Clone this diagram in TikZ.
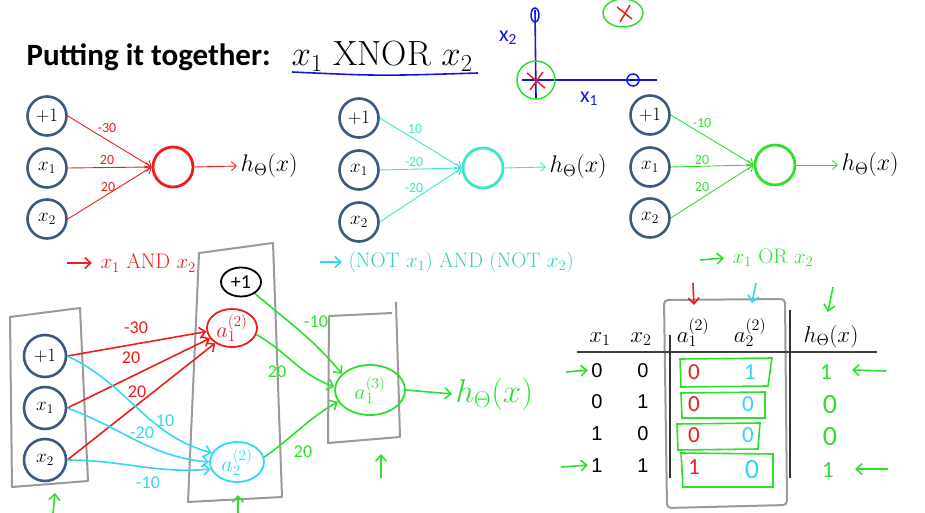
\documentclass[tikz,border=0pt]{standalone}
\usepackage{fix-cm}
\usepackage{fontspec}
\usetikzlibrary{arrows.meta,shapes.geometric}
\newfontfamily\calib{Carlito}
\newfontfamily\arialf{Liberation Sans}
\definecolor{nblue}{HTML}{3C5A80}
\definecolor{myred}{HTML}{EE1C1C}
\definecolor{tcyan}{HTML}{3EE6C8}
\definecolor{ccap}{HTML}{40C8C4}
\definecolor{hcyan}{HTML}{30D8F0}
\definecolor{mygreen}{HTML}{2EE02E}
\definecolor{pblue}{HTML}{1515E0}
\definecolor{boxgray}{HTML}{9A9A9A}
\begin{document}
\begin{tikzpicture}[x=1pt,y=-1pt,
 inp/.style={circle,draw=nblue,line width=2.6pt,minimum size=39pt,inner sep=0pt,font=\fontsize{19}{19}\selectfont},
 outn/.style={circle,line width=2.8pt,minimum size=40pt,inner sep=0pt},
 tarr/.style={line width=0.9pt,-{Straight Barb[length=5pt,width=9pt]}},
 wt/.style={font=\calib\fontsize{14}{14}\selectfont},
 hlab/.style={anchor=west,font=\fontsize{24}{24}\selectfont},
 capn/.style={anchor=west,font=\fontsize{21}{21}\selectfont},
 harr/.style={line width=1.6pt,-{Straight Barb[length=6pt,width=11pt]}},
 hw/.style={font=\calib\fontsize{18}{18}\selectfont},
 hbox/.style={draw=boxgray,line width=2pt,line join=round},
 hell/.style={ellipse,line width=1.8pt,inner sep=0pt,font=\fontsize{22}{22}\selectfont},
 thead/.style={anchor=base,font=\fontsize{23}{23}\selectfont},
 dig/.style={anchor=base,font=\arialf\fontsize{20}{20}\selectfont},
 hdig/.style={anchor=base,font=\calib\fontsize{23}{23}\selectfont},
 ]
\useasboundingbox (0,0) rectangle (925,513);

% ---------- title ----------
\node[anchor=base west,font=\calib\bfseries\fontsize{31}{31}\selectfont] (title) at (23,66) {Putting it together:};
\node[anchor=base west,font=\fontsize{35}{35}\selectfont] (titlem) at (288,66) {$x_1\ \mathrm{XNOR}\ x_2$};
\draw[pblue,line width=1.6pt] (292,72) .. controls (380,76) .. (478,73);

% ---------- axes sketch ----------
\draw[pblue,line width=1.6pt] (535,10) -- (536,98);
\draw[pblue,line width=1.6pt] (522,80) -- (657,80);
\draw[pblue,line width=1.5pt] (535,15) ellipse (4 and 7);
\draw[pblue,line width=1.5pt] (633,80) ellipse (6 and 6);
\draw[mygreen,line width=1.5pt] (536,80) circle (19);
\draw[myred,line width=1.5pt] (527,73) -- (545,88) (543,72) -- (530,90);
\draw[mygreen,line width=1.5pt] (623,13) ellipse (20 and 14);
\draw[myred,line width=1.5pt] (617,7) -- (632,19) (630,5) -- (620,22);
\node[pblue,font=\calib\fontsize{22}{22}\selectfont] (ax2) at (508,38) {x\textsubscript{2}};
\node[pblue,font=\calib\fontsize{22}{22}\selectfont] (ax1) at (589,99) {x\textsubscript{1}};

% ---------- network 1 (AND) ----------
\node[inp] (n1p) at (47,116) {$+1$};
\node[inp] (n1a) at (47,168) {$x_1$};
\node[inp] (n1b) at (47,219) {$x_2$};
\node[outn,draw=myred] (n1o) at (173,167) {};
\draw[myred,tarr] (n1p.east) -- (n1o.west);
\draw[myred,tarr] (n1a.east) -- (n1o.west);
\draw[myred,tarr] (n1b.east) -- (n1o.west);
\node[hlab] (n1h) at (237,166) {$h_\Theta(x)$};
\draw[myred,tarr] (n1o.east) -- (n1h.west);
\node[wt,text=myred] (w1a) at (107,128) {-30};
\node[wt,text=myred] (w1b) at (107,160) {20};
\node[wt,text=myred] (w1c) at (108,187) {20};

% ---------- network 2 (NOR) ----------
\node[inp] (n2p) at (359,118) {$+1$};
\node[inp] (n2a) at (359,170) {$x_1$};
\node[inp] (n2b) at (359,222) {$x_2$};
\node[outn,draw=tcyan] (n2o) at (483,168) {};
\draw[tcyan,tarr] (n2p.east) -- (n2o.west);
\draw[tcyan,tarr] (n2a.east) -- (n2o.west);
\draw[tcyan,tarr] (n2b.east) -- (n2o.west);
\node[hlab] (n2h) at (546,167) {$h_\Theta(x)$};
\draw[tcyan,tarr] (n2o.east) -- (n2h.west);
\node[wt,text=tcyan] (w2a) at (415,129) {10};
\node[wt,text=tcyan] (w2b) at (414,162) {-20};
\node[wt,text=tcyan] (w2c) at (414,188) {-20};

% ---------- network 3 (OR) ----------
\node[inp] (n3p) at (650,115) {$+1$};
\node[inp] (n3a) at (650,167) {$x_1$};
\node[inp] (n3b) at (650,218) {$x_2$};
\node[outn,draw=mygreen] (n3o) at (775,165) {};
\draw[mygreen,tarr] (n3p.east) -- (n3o.west);
\draw[mygreen,tarr] (n3a.east) -- (n3o.west);
\draw[mygreen,tarr] (n3b.east) -- (n3o.west);
\node[hlab] (n3h) at (838,165) {$h_\Theta(x)$};
\draw[mygreen,tarr] (n3o.east) -- (n3h.west);
\node[wt,text=mygreen] (w3a) at (702,123) {-10};
\node[wt,text=mygreen] (w3b) at (702,160) {20};
\node[wt,text=mygreen] (w3c) at (702,187) {20};

% ---------- captions ----------
\node[capn,text=myred] (cap1) at (97,263) {$x_1\ \mathrm{AND}\ x_2$};
\draw[myred,harr] ([xshift=-30pt]cap1.west) -- ([xshift=-5pt]cap1.west);
\node[capn,text=ccap] (cap2) at (345,262) {$(\mathrm{NOT}\ x_1)\ \mathrm{AND}\ (\mathrm{NOT}\ x_2)$};
\draw[hcyan,harr] ([xshift=-25pt]cap2.west) -- ([xshift=-3pt]cap2.west);
\node[capn,text=mygreen] (cap3) at (729,258) {$x_1\ \mathrm{OR}\ x_2$};
\draw[mygreen,harr] ([xshift=-29pt,yshift=-2pt]cap3.west) -- ([xshift=-5pt]cap3.west);

% ---------- hand-drawn network ----------
\draw[hbox] (10,317) -- (80,308) -- (88,481) -- (12,487) -- cycle;
\draw[hbox] (199,253) -- (273,243) -- (282,497) -- (188,502) -- cycle;
\draw[hbox] (329,316) -- (392,313) (396,302) -- (400,437) -- (328,443) -- (329,316);

\node[inp,minimum size=42pt] (bp) at (45,356) {$+1$};
\node[inp,minimum size=42pt] (ba) at (45,408) {$x_1$};
\node[inp,minimum size=42pt] (bb) at (45,460) {$x_2$};

\node[hell,draw=black,minimum width=40pt,minimum height=29pt,font=\calib\fontsize{20}{20}\selectfont] (hb) at (241,282) {+1};
\node[hell,draw=myred,text=myred,minimum width=50pt,minimum height=36pt] (h1) at (232,328) {$a_1^{(2)}$};
\node[hell,draw=hcyan,text=hcyan,minimum width=54pt,minimum height=40pt] (h2) at (237,462) {$a_2^{(2)}$};
\node[hell,draw=mygreen,text=mygreen,minimum width=70pt,minimum height=50pt] (o3) at (370,390) {$a_1^{(3)}$};

\draw[myred,harr] (bp.east) -- (h1.188);
\draw[myred,harr] (ba.east) -- (h1.205);
\draw[myred,harr] (bb.east) -- (h1.222);
\node[hw,text=myred] (bw1) at (136,328) {-30};
\node[hw,text=myred] (bw2) at (131,358) {20};
\node[hw,text=myred] (bw3) at (137,392) {20};

\draw[hcyan,harr] (bp.east) to[out=-25,in=165] (h2.160);
\draw[hcyan,harr] (ba.east) to[out=-20,in=175] (h2.180);
\draw[hcyan,harr] (bb.east) to[out=0,in=185] (h2.195);
\node[hw,text=hcyan] (bw4) at (165,421) {10};
\node[hw,text=hcyan] (bw5) at (142,433) {-20};
\node[hw,text=hcyan] (bw6) at (148,483) {-10};

\draw[mygreen,harr] (hb.-40) to[out=-40,in=130] (o3.150);
\draw[mygreen,harr] (h1.-15) to[out=-30,in=160] (o3.175);
\draw[mygreen,harr] (h2.10) to[out=35,in=-150] (o3.200);
\node[hw,text=mygreen] (bw7) at (316,322) {-10};
\node[hw,text=mygreen] (bw8) at (277,372) {20};
\node[hw,text=mygreen] (bw9) at (303,452) {20};

\node[anchor=west,text=mygreen,font=\fontsize{33}{33}\selectfont] (hout) at (452,394) {$h_\Theta(x)$};
\draw[mygreen,harr] (o3.east) -- (hout.west);

\coordinate (u1) at (53,513);
\coordinate (u2) at (238,513);
\coordinate (u3) at (381,478);
\draw[mygreen,harr] (u1) -- ++(2,-20);
\draw[mygreen,harr] (u2) -- ++(0,-18);
\draw[mygreen,harr] (u3) -- ++(0,-24);

% ---------- table ----------
\draw[boxgray,line width=2pt,rounded corners=4pt] (664,300) -- (785,299) -- (787,505) -- (667,508) -- cycle;
\node[thead] (tx1) at (600,342) {$x_1$};
\node[thead] (tx2) at (641,342) {$x_2$};
\node[thead] (ta1) at (693,342) {$a_1^{(2)}$};
\node[thead] (ta2) at (750,342) {$a_2^{(2)}$};
\node[thead] (th) at (831,342) {$h_\Theta(x)$};
\draw[black!75,line width=1.6pt] (577,352) -- (877,352);
\draw[black!80,line width=1.8pt] (670,335) -- (670,478);
\draw[black!80,line width=1.8pt] (790,310) -- (790,478);

\foreach \y/\a/\b [count=\i] in {377/0/0,408/0/1,440/1/0,472/1/1}{
  \node[dig] (ra\i) at (597,\y) {\a};
  \node[dig] (rb\i) at (643,\y) {\b};
}
\draw[mygreen,line width=1.6pt] (680,359) -- (772,358) -- (768,386) -- (681,387) -- cycle;
\draw[mygreen,line width=1.6pt] (681,393) -- (765,392) -- (765,418) -- (682,418) -- cycle;
\draw[mygreen,line width=1.6pt] (677,424) -- (760,423) -- (758,449) -- (678,450) -- cycle;
\draw[mygreen,line width=1.6pt] (681,453) -- (773,454) -- (773,487) -- (683,487) -- cycle;

\node[hdig,text=myred] (c11) at (694,379) {0};
\node[hdig,text=myred] (c12) at (694,411) {0};
\node[hdig,text=myred] (c13) at (694,442) {0};
\node[hdig,text=myred] (c14) at (694,474) {1};
\node[hdig,text=hcyan] (c21) at (750,379) {1};
\node[hdig,text=hcyan] (c22) at (748,411) {0};
\node[hdig,text=hcyan] (c23) at (748,442) {0};
\node[hdig,text=hcyan,font=\calib\fontsize{28}{28}\selectfont] (c24) at (752,478) {0};
\node[hdig,text=mygreen] (c31) at (826,379) {1};
\node[hdig,text=mygreen,font=\calib\fontsize{28}{28}\selectfont] (c32) at (830,413) {0};
\node[hdig,text=mygreen,font=\calib\fontsize{28}{28}\selectfont] (c33) at (830,445) {0};
\node[hdig,text=mygreen] (c34) at (828,477) {1};

\draw[myred,harr] (693,283) -- (694,305);
\draw[hcyan,harr] (756,283) -- (752,303);
\draw[mygreen,harr] (833,287) -- (828,312);
\draw[mygreen,harr] (566,372) -- (ra1.west);
\draw[mygreen,harr] (561,467) -- (ra4.west);
\draw[mygreen,harr] (886,371) -- (852,370);
\draw[mygreen,harr] (888,469) -- (855,469);
\end{tikzpicture}
\end{document}
